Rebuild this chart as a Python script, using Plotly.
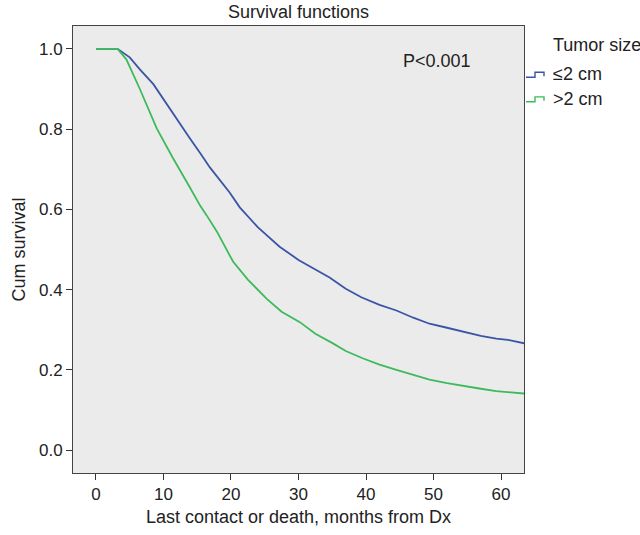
import plotly.graph_objects as go

# Data (months, cumulative survival)
months_small = [0, 3.2, 5.0, 6.5, 8.5, 10.9, 13.9, 15.4, 16.9, 19.8, 21.3, 24.0, 27.2, 30.0,
                33.1, 34.6, 37.0, 39.3, 42.0, 44.5, 47.0, 49.4, 52.0, 54.3, 57.0, 59.3, 61.0, 63.5]
surv_small = [1.0, 1.0, 0.979, 0.949, 0.912, 0.851, 0.777, 0.741, 0.704, 0.642, 0.605, 0.555, 0.507, 0.474,
              0.444, 0.430, 0.402, 0.381, 0.362, 0.348, 0.330, 0.315, 0.305, 0.295, 0.285, 0.278, 0.275, 0.266]

months_large = [0, 3.2, 4.5, 6.5, 9.0, 11.4, 13.9, 15.4, 16.4, 17.9, 20.3, 22.5, 25.3, 27.5, 30.2,
                32.5, 35.1, 37.0, 39.5, 42.0, 44.5, 47.0, 49.4, 52.0, 54.3, 57.0, 59.3, 61.5, 63.5]
surv_large = [1.0, 1.0, 0.974, 0.900, 0.802, 0.728, 0.655, 0.610, 0.585, 0.545, 0.470, 0.425, 0.377, 0.345, 0.319,
              0.290, 0.266, 0.247, 0.229, 0.213, 0.200, 0.187, 0.176, 0.167, 0.160, 0.153, 0.147, 0.144, 0.141]

series_names = ["≤2 cm", ">2 cm"]
series_colors = ["#3b55a6", "#3dba5c"]

x_ticks = [0, 10, 20, 30, 40, 50, 60]
y_ticks = [0.0, 0.2, 0.4, 0.6, 0.8, 1.0]

FONT = "Liberation Sans, Arial, sans-serif"
TXT = "#222222"

fig = go.Figure()
fig.add_trace(go.Scatter(x=months_small, y=surv_small, mode="lines", name=series_names[0],
                         line=dict(color=series_colors[0], width=1.8), showlegend=False))
fig.add_trace(go.Scatter(x=months_large, y=surv_large, mode="lines", name=series_names[1],
                         line=dict(color=series_colors[1], width=1.8), showlegend=False))

L, R, T, B = 73, 524, 26, 480
W, H = 640, 535

def px(xp):
    return (xp - L) / (R - L)

def py(yp):
    return (B - yp) / (B - T)

# Legend (manual, step-shaped keys)
fig.add_annotation(x=px(551), y=py(45), xref="paper", yref="paper", text="Tumor size",
                   showarrow=False, xanchor="left", yanchor="middle",
                   font=dict(family=FONT, size=18, color=TXT))
for i, (nm, col) in enumerate(zip(series_names, series_colors)):
    yc = 75 + 25 * i
    path = (f"M {px(526)},{py(yc+3)} L {px(535)},{py(yc+3)} L {px(535)},{py(yc-2)} "
            f"L {px(544)},{py(yc-2)} L {px(544)},{py(yc+2)}")
    fig.add_shape(type="path", path=path, xref="paper", yref="paper",
                  line=dict(color=col, width=1.4))
    fig.add_annotation(x=px(551), y=py(yc), xref="paper", yref="paper", text=nm,
                       showarrow=False, xanchor="left", yanchor="middle",
                       font=dict(family=FONT, size=18, color=TXT))

fig.add_annotation(x=px(437), y=py(62), xref="paper", yref="paper", text="P<0.001",
                   showarrow=False, xanchor="center", yanchor="middle",
                   font=dict(family=FONT, size=18, color=TXT))

fig.update_layout(
    width=W, height=H,
    margin=dict(l=L, r=W - R, t=T, b=H - B),
    paper_bgcolor="white",
    plot_bgcolor="#ebebeb",
    font=dict(family=FONT, size=17, color=TXT),
    title=dict(text="Survival functions", x=(L + R) / 2 / W, xanchor="center",
               y=1 - 12 / H, yanchor="middle", font=dict(family=FONT, size=18, color=TXT)),
    xaxis=dict(range=[-3.4, 63.4], tickvals=x_ticks, ticks="outside", ticklen=6,
               tickcolor="#333", showline=True, linecolor="#444", linewidth=1, mirror=True,
               showgrid=False, zeroline=False,
               title=dict(text="Last contact or death, months from Dx", standoff=6,
                          font=dict(family=FONT, size=18, color=TXT)),
               tickfont=dict(family=FONT, size=17, color=TXT)),
    yaxis=dict(range=[-0.057, 1.057], tickvals=y_ticks, tickformat=".1f", ticks="outside",
               ticklen=6, tickcolor="#333", showline=True, linecolor="#444", linewidth=1,
               mirror=True, showgrid=False, zeroline=False,
               title=dict(text="Cum survival", standoff=8,
                          font=dict(family=FONT, size=18, color=TXT)),
               tickfont=dict(family=FONT, size=17, color=TXT)),
)

fig.write_html("out.html", config={"displayModeBar": False},
               post_script="document.body.style.margin='0px';")
